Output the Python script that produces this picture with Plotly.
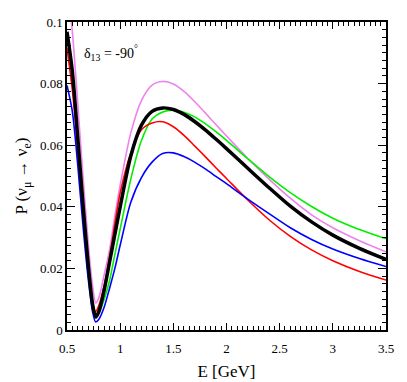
import plotly.graph_objects as go

energy = [0.5, 0.55, 0.6, 0.65, 0.7, 0.74, 0.77, 0.8, 0.85, 0.9, 0.95, 1.0,
          1.1, 1.2, 1.3, 1.4, 1.5, 1.6, 1.7, 1.8, 1.9, 2.0, 2.2, 2.4, 2.6,
          2.8, 3.0, 3.25, 3.5]

p_violet = [0.113, 0.097, 0.074, 0.050, 0.028, 0.0145, 0.0088, 0.0105, 0.018,
            0.026, 0.037, 0.047, 0.064, 0.0745, 0.0795, 0.0807, 0.0799, 0.0775,
            0.0742, 0.0705, 0.0667, 0.0630, 0.0557, 0.0490, 0.0428, 0.0374,
            0.0332, 0.0290, 0.0254]
p_green = [0.0955, 0.083, 0.063, 0.042, 0.022, 0.0095, 0.0050, 0.0055, 0.010,
           0.016, 0.0245, 0.0328, 0.049, 0.0615, 0.0685, 0.0708, 0.0714, 0.0707,
           0.0692, 0.0670, 0.0644, 0.0616, 0.0556, 0.0498, 0.0446, 0.0401,
           0.0363, 0.0326, 0.0296]
p_red = [0.0915, 0.078, 0.059, 0.038, 0.0195, 0.0085, 0.0060, 0.0080, 0.0145,
         0.0235, 0.0345, 0.0445, 0.0575, 0.065, 0.0672, 0.0676, 0.0660, 0.0632,
         0.0598, 0.0563, 0.0527, 0.0492, 0.0422, 0.0358, 0.0304, 0.0260,
         0.0225, 0.0190, 0.0162]
p_blue = [0.0794, 0.071, 0.054, 0.034, 0.0165, 0.006, 0.0026, 0.0035, 0.0075,
          0.0135, 0.020, 0.0275, 0.0415, 0.0495, 0.0545, 0.0573, 0.0575, 0.0563,
          0.0545, 0.0523, 0.0499, 0.0475, 0.0425, 0.0378, 0.0332, 0.0294,
          0.0263, 0.0232, 0.0206]
p_black = [0.0968, 0.084, 0.063, 0.041, 0.021, 0.0085, 0.0042, 0.0060, 0.013,
           0.022, 0.031, 0.040, 0.0565, 0.0665, 0.0710, 0.0721, 0.0716, 0.0700,
           0.0677, 0.0650, 0.0620, 0.0589, 0.0525, 0.0462, 0.0402, 0.0351,
           0.0308, 0.0265, 0.0229]

font_name = "Liberation Serif, Times New Roman, serif"

fig = go.Figure()

curves = [
    (p_violet, "#ee82ee", 1.6),
    (p_green, "#00ee00", 1.6),
    (p_red, "#ff0000", 1.6),
    (p_blue, "#0000ff", 1.6),
    (p_black, "#000000", 3.5),
]
for values, colour, width in curves:
    fig.add_trace(go.Scatter(
        x=energy,
        y=values,
        mode="lines",
        line=dict(color=colour, width=width, shape="spline", smoothing=0.8),
        showlegend=False,
        hoverinfo="skip",
    ))

axis_common = dict(
    showline=True,
    linecolor="black",
    linewidth=1.5,
    mirror="allticks",
    ticks="inside",
    tickcolor="black",
    tickwidth=1,
    showgrid=False,
    zeroline=False,
    tickfont=dict(family=font_name, size=13, color="black"),
)

# the page body adds an 8px offset, margins compensate for it
fig.update_layout(
    width=407,
    height=382,
    margin=dict(l=59, r=29, t=7, b=60),
    paper_bgcolor="white",
    plot_bgcolor="white",
    font=dict(family=font_name, color="black"),
    xaxis=dict(
        range=[0.5, 3.5],
        dtick=0.5,
        tick0=0.5,
        ticklen=7,
        ticklabelstandoff=6,
        minor=dict(dtick=0.05, ticklen=4, ticks="inside", tickcolor="black"),
        title=dict(text="E [GeV]", font=dict(family=font_name, size=17),
                   standoff=10),
        **axis_common,
    ),
    yaxis=dict(
        range=[0, 0.1],
        dtick=0.02,
        tick0=0,
        ticklen=8,
        tickformat="~g",
        minor=dict(dtick=0.0025, ticklen=4, ticks="inside", tickcolor="black"),
        title=dict(text="P (ν<sub>μ</sub> → ν<sub>e</sub>)",
                   font=dict(family=font_name, size=17), standoff=8),
        **axis_common,
    ),
    annotations=[dict(
        x=0.645, y=0.0898, xref="x", yref="y",
        text="δ<sub>13</sub> = -90<sup>°</sup>",
        showarrow=False, xanchor="left", yanchor="middle",
        font=dict(family=font_name, size=14, color="black"),
    )],
)

fig.write_html("out.html")
